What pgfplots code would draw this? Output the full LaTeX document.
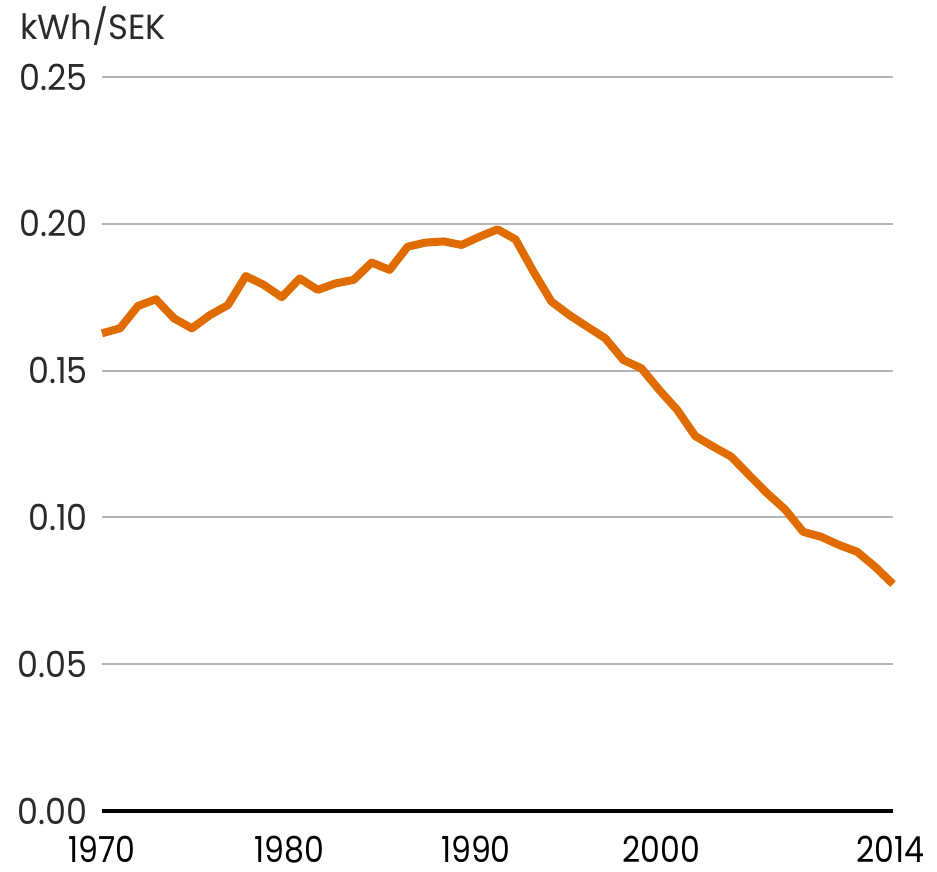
\documentclass[border=0pt]{standalone}
\usepackage{fontspec}
\setmainfont{Poppins}
\newfontfamily\yfont{Poppins}[FakeStretch=0.93]
\newfontfamily\xfont{Poppins}[FakeStretch=0.88]
\newfontfamily\tfont{Poppins}[FakeStretch=0.97]
\usepackage{pgfplots}
\pgfplotsset{compat=1.18}
\definecolor{lineorange}{HTML}{E06C00}
\definecolor{gridgray}{HTML}{B4B4B4}
\definecolor{labelgray}{HTML}{2A2A2A}
\begin{document}
\begin{tikzpicture}
\useasboundingbox (0,0) rectangle (937bp,872bp);
\begin{axis}[
  scale only axis, width=791bp, height=734bp,
  at={(102bp,61bp)}, anchor=south west,
  xmin=1970, xmax=2014, ymin=0, ymax=0.25,
  axis line style={draw=none},
  clip=false,
  major tick length=0pt,
  ymajorgrids, grid style={color=gridgray, line width=2bp},
  ytick={0,0.05,0.1,0.15,0.2,0.25},
  yticklabels={0.00,0.05,0.10,0.15,0.20,0.25},
  xtick={1970,1980.4,1990.8,2001.1,2013.85},
  xticklabels={1970,1980,1990,2000,2014},
  yticklabel style={anchor=east, inner sep=0pt, xshift=-14bp, text=labelgray, font=\yfont\fontsize{36}{40}\selectfont},
  xticklabel style={anchor=north, inner sep=0pt, yshift=-25bp, text=black, font=\xfont\fontsize{36}{40}\selectfont},
]
\draw[black, line width=4bp] (axis cs:1970,0) -- (axis cs:2014,0);
\addplot[lineorange, line width=8bp, line join=round] coordinates {
(1970,0.1627) (1971,0.1644) (1972,0.1720) (1973,0.1743) (1974,0.1678)
(1975,0.1644) (1976,0.1689) (1977,0.1723) (1978,0.1822) (1979,0.1792)
(1980,0.1750) (1981,0.1814) (1982,0.1775) (1983,0.1797) (1984,0.1809)
(1985,0.1868) (1986,0.1843) (1987,0.1922) (1988,0.1936) (1989,0.1940)
(1990,0.1928) (1991,0.1956) (1992,0.1981) (1993,0.1947) (1994,0.1837)
(1995,0.1735) (1996,0.1689) (1997,0.1649) (1998,0.1610) (1999,0.1536)
(2000,0.1508) (2001,0.1434) (2002,0.1366) (2003,0.1277) (2004,0.1241)
(2005,0.1207) (2006,0.1144) (2007,0.1082) (2008,0.1027) (2009,0.0951)
(2010,0.0934) (2011,0.0906) (2012,0.0883) (2013,0.0832) (2014,0.0773)
};
\end{axis}
\node[anchor=base west, inner sep=0pt, text=labelgray, font=\tfont\fontsize{35}{38}\selectfont] at (20bp,832bp) {kWh/SEK};
\end{tikzpicture}
\end{document}
